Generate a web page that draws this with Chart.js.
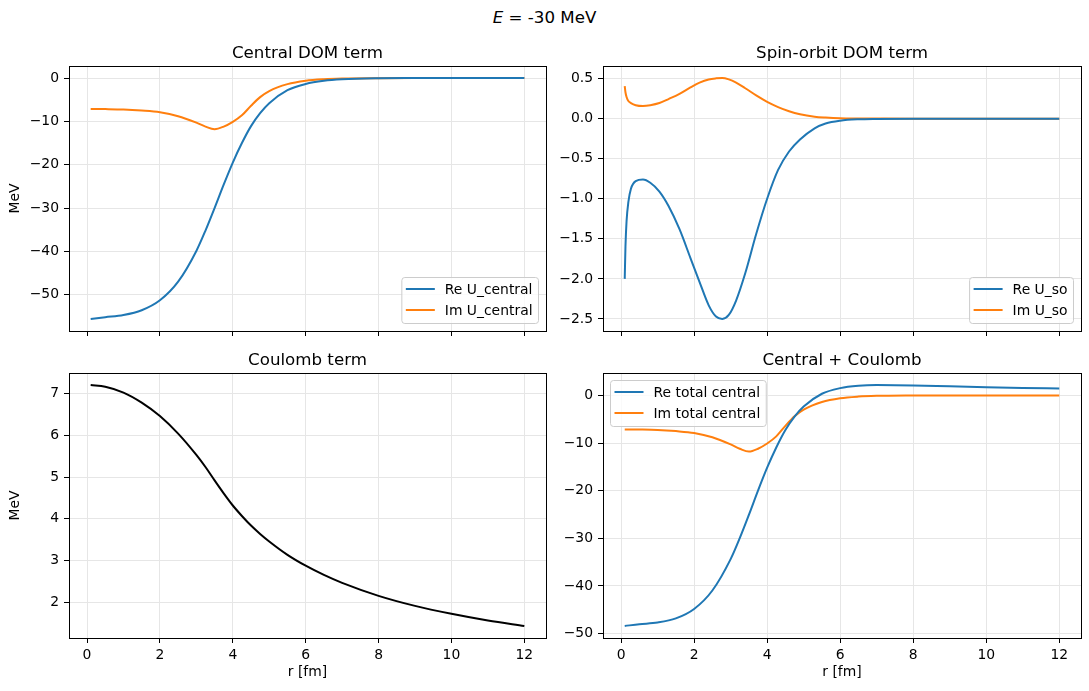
<!DOCTYPE html>
<html>
<head>
<meta charset="utf-8">
<script src="https://cdn.jsdelivr.net/npm/chart.js@4.4.0/dist/chart.umd.min.js"></script>
<style>
  body { margin: 0; background: #fff; width: 1089px; height: 691px; position: relative; overflow: hidden; font-family: "DejaVu Sans", sans-serif; }
  canvas { position: absolute; }
  #sup { position: absolute; left: 0; top: 8px; width: 1089px; text-align: center; font-size: 16.67px; line-height: 20px; color: #000; }
</style>
</head>
<body>
<div id="sup"><i>E</i> = -30 MeV</div>
<canvas id="central" width="552" height="313" style="left:0;top:26px"></canvas>
<canvas id="spinorbit" width="534" height="313" style="left:555px;top:26px"></canvas>
<canvas id="coulomb" width="552" height="358" style="left:0;top:333px"></canvas>
<canvas id="total" width="534" height="358" style="left:555px;top:333px"></canvas>
<script>
// ── DATA ──
const xTicks = [0, 2, 4, 6, 8, 10, 12];

// radial grid for central / Coulomb panels (fm)
const rCentral = [0.1, 0.5, 1.0, 1.5, 2.0, 2.5, 3.0, 3.25, 3.5, 3.75, 4.0, 4.25, 4.5, 4.75, 5.0, 5.5, 6.0, 6.5, 7.0, 8.0, 9.0, 10.0, 11.0, 12.0];
const reCentral = [-55.6, -55.2, -54.7, -53.6, -51.3, -47.0, -39.9, -35.2, -30.0, -24.6, -19.5, -15.0, -11.1, -8.1, -5.8, -2.8, -1.36, -0.64, -0.3, -0.06, -0.01, 0, 0, 0];
const imCentral = [-7.15, -7.17, -7.25, -7.5, -7.9, -8.8, -10.3, -11.2, -11.8, -11.2, -10.1, -8.6, -6.4, -4.4, -3.0, -1.4, -0.6, -0.25, -0.1, -0.02, 0, 0, 0, 0];
const coulomb   = [7.20, 7.16, 7.02, 6.78, 6.46, 6.04, 5.53, 5.24, 4.92, 4.61, 4.32, 4.07, 3.84, 3.64, 3.46, 3.14, 2.88, 2.66, 2.47, 2.16, 1.92, 1.73, 1.57, 1.44];
const reTotal   = [-48.4, -48.04, -47.68, -46.82, -44.84, -40.96, -34.37, -29.96, -25.08, -19.99, -15.18, -10.93, -7.26, -4.46, -2.34, 0.34, 1.52, 2.02, 2.17, 2.10, 1.91, 1.73, 1.57, 1.44];
const imTotal   = [-7.15, -7.17, -7.25, -7.5, -7.9, -8.8, -10.3, -11.2, -11.8, -11.2, -10.1, -8.6, -6.4, -4.4, -3.0, -1.4, -0.6, -0.25, -0.1, -0.02, 0, 0, 0, 0];

// radial grid for spin-orbit panel (denser near the origin)
const rSo  = [0.1, 0.12, 0.15, 0.2, 0.27, 0.4, 0.6, 0.8, 1.05, 1.3, 1.6, 1.9, 2.15, 2.4, 2.6, 2.77, 2.95, 3.15, 3.4, 3.7, 4.0, 4.3, 4.6, 4.9, 5.3, 5.6, 6.0, 6.5, 7.0, 8.0, 9.0, 10.0, 11.0, 12.0];
const reSo = [-2.0, -1.6, -1.28, -1.04, -0.875, -0.78, -0.76, -0.80, -0.91, -1.09, -1.38, -1.74, -2.04, -2.33, -2.47, -2.5, -2.45, -2.27, -1.93, -1.44, -1.0, -0.64, -0.41, -0.26, -0.12, -0.06, -0.025, -0.008, -0.003, 0, 0, 0, 0, 0];
const imSo = [0.405, 0.33, 0.27, 0.22, 0.195, 0.168, 0.158, 0.168, 0.195, 0.245, 0.31, 0.39, 0.45, 0.49, 0.503, 0.507, 0.49, 0.45, 0.38, 0.29, 0.21, 0.145, 0.093, 0.055, 0.025, 0.014, 0.005, 0.002, 0.001, 0, 0, 0, 0, 0];

const yTicksCentral = [0, -10, -20, -30, -40, -50];
const yTicksSo      = [0.5, 0, -0.5, -1, -1.5, -2, -2.5];
const yTicksCoulomb = [2, 3, 4, 5, 6, 7];
const yTicksTotal   = [0, -10, -20, -30, -40, -50];

const colors = { blue: '#1f77b4', orange: '#ff7f0e', black: '#000000' };

Chart.defaults.font.family = "'DejaVu Sans', sans-serif";
Chart.defaults.font.size = 13.9;
Chart.defaults.color = '#000';

const fmt = (v, dec) => Number(v).toFixed(dec).replace('-', '\u2212');

// x range like matplotlib autoscale (5% margins)
const xLo = rCentral[0] - 0.05 * (rCentral[rCentral.length - 1] - rCentral[0]);
const xHi = rCentral[rCentral.length - 1] + 0.05 * (rCentral[rCentral.length - 1] - rCentral[0]);

// ── frame, axes title, boxed legend ──
const decor = {
  id: 'decor',
  afterDraw(chart, args, opts) {
    const { ctx, chartArea: a } = chart;
    ctx.save();

    // legend
    if (opts.corner) {
      const sets = chart.data.datasets;
      ctx.font = "13.9px 'DejaVu Sans'";
      const textW = Math.max(...sets.map(d => ctx.measureText(d.label).width));
      const w = 43 + textW + 6, h = 4 + 21 * sets.length;
      const x = opts.corner === 'lr' ? a.right - 7.5 - w : a.left + 7.5;
      const y = opts.corner === 'lr' ? a.bottom - 7.5 - h : a.top + 7.5;
      ctx.beginPath();
      ctx.roundRect(x, y, w, h, 3);
      ctx.fillStyle = 'rgba(255,255,255,0.8)';
      ctx.fill();
      ctx.strokeStyle = '#cccccc';
      ctx.lineWidth = 1;
      ctx.stroke();
      sets.forEach((d, i) => {
        const cy = y + 11.5 + 21 * i;
        ctx.beginPath();
        ctx.moveTo(x + 4, cy);
        ctx.lineTo(x + 33, cy);
        ctx.strokeStyle = d.borderColor;
        ctx.lineWidth = 2;
        ctx.stroke();
        ctx.fillStyle = '#000';
        ctx.textAlign = 'left';
        ctx.textBaseline = 'middle';
        ctx.fillText(d.label, x + 43, cy + 1);
      });
    }

    // axes title
    ctx.font = "16.67px 'DejaVu Sans'";
    ctx.fillStyle = '#000';
    ctx.textAlign = 'center';
    ctx.textBaseline = 'alphabetic';
    ctx.fillText(opts.title, (a.left + a.right) / 2, a.top - 8);

    // frame
    ctx.strokeStyle = '#000';
    ctx.lineWidth = 1;
    ctx.strokeRect(Math.round(a.left) + 0.5, Math.round(a.top) + 0.5, Math.round(a.right - a.left), Math.round(a.bottom - a.top));
    ctx.restore();
  }
};

function makePanel(canvasId, cfg) {
  const ctx = document.getElementById(canvasId);
  const all = cfg.series.flatMap(s => s.y);
  const lo = Math.min(...all), hi = Math.max(...all), m = (hi - lo) * 0.05;
  const grid = { color: '#e6e6e6', lineWidth: 1, tickColor: '#000', tickLength: 5, tickWidth: 1 };

  return new Chart(ctx, {
    type: 'line',
    data: {
      datasets: cfg.series.map(s => ({
        label: s.label,
        data: s.x.map((x, i) => ({ x, y: s.y[i] })),
        borderColor: s.color,
        backgroundColor: s.color,
        borderWidth: 2,
        pointRadius: 0,
        fill: false,
        cubicInterpolationMode: 'monotone'
      }))
    },
    options: {
      responsive: false,
      animation: false,
      devicePixelRatio: 1,
      layout: { padding: { top: 40, right: cfg.padRight, left: 0, bottom: 0 } },
      plugins: {
        legend: { display: false },
        tooltip: { enabled: false },
        decor: { title: cfg.title, corner: cfg.legend }
      },
      scales: {
        x: {
          type: 'linear',
          min: xLo,
          max: xHi,
          afterBuildTicks: s => { s.ticks = xTicks.map(v => ({ value: v })); },
          afterFit: s => { s.height = cfg.bottomRow ? 53 : 8; s.paddingLeft = 0; s.paddingRight = 0; },
          ticks: { autoSkip: false, maxRotation: 0, padding: 4, callback: v => cfg.bottomRow ? fmt(v, 0) : '' },
          grid,
          border: { display: false },
          title: { display: !!cfg.bottomRow, text: 'r [fm]', padding: { top: 0, bottom: 10 } }
        },
        y: {
          type: 'linear',
          min: lo - m,
          max: hi + m,
          afterBuildTicks: s => { s.ticks = cfg.yTicks.map(v => ({ value: v })); },
          afterFit: s => { s.width = cfg.axisW; s.paddingTop = 0; s.paddingBottom = 0; },
          ticks: { autoSkip: false, padding: 5, callback: v => fmt(v, cfg.dec) },
          grid,
          border: { display: false },
          title: { display: !!cfg.yLabel, text: cfg.yLabel || '', padding: { top: 7.5, bottom: 0 } }
        }
      }
    },
    plugins: [decor]
  });
}

makePanel('central', {
  title: 'Central DOM term', axisW: 69, padRight: 6, yTicks: yTicksCentral, dec: 0, yLabel: 'MeV', legend: 'lr',
  series: [
    { label: 'Re U_central', x: rCentral, y: reCentral, color: colors.blue },
    { label: 'Im U_central', x: rCentral, y: imCentral, color: colors.orange }
  ]
});

makePanel('spinorbit', {
  title: 'Spin-orbit DOM term', axisW: 48, padRight: 8, yTicks: yTicksSo, dec: 1, legend: 'lr',
  series: [
    { label: 'Re U_so', x: rSo, y: reSo, color: colors.blue },
    { label: 'Im U_so', x: rSo, y: imSo, color: colors.orange }
  ]
});

makePanel('coulomb', {
  title: 'Coulomb term', axisW: 69, padRight: 6, yTicks: yTicksCoulomb, dec: 0, yLabel: 'MeV', bottomRow: true,
  series: [
    { label: 'Coulomb', x: rCentral, y: coulomb, color: colors.black }
  ]
});

makePanel('total', {
  title: 'Central + Coulomb', axisW: 48, padRight: 8, yTicks: yTicksTotal, dec: 0, legend: 'ul', bottomRow: true,
  series: [
    { label: 'Re total central', x: rCentral, y: reTotal, color: colors.blue },
    { label: 'Im total central', x: rCentral, y: imTotal, color: colors.orange }
  ]
});
</script>
</body>
</html>
